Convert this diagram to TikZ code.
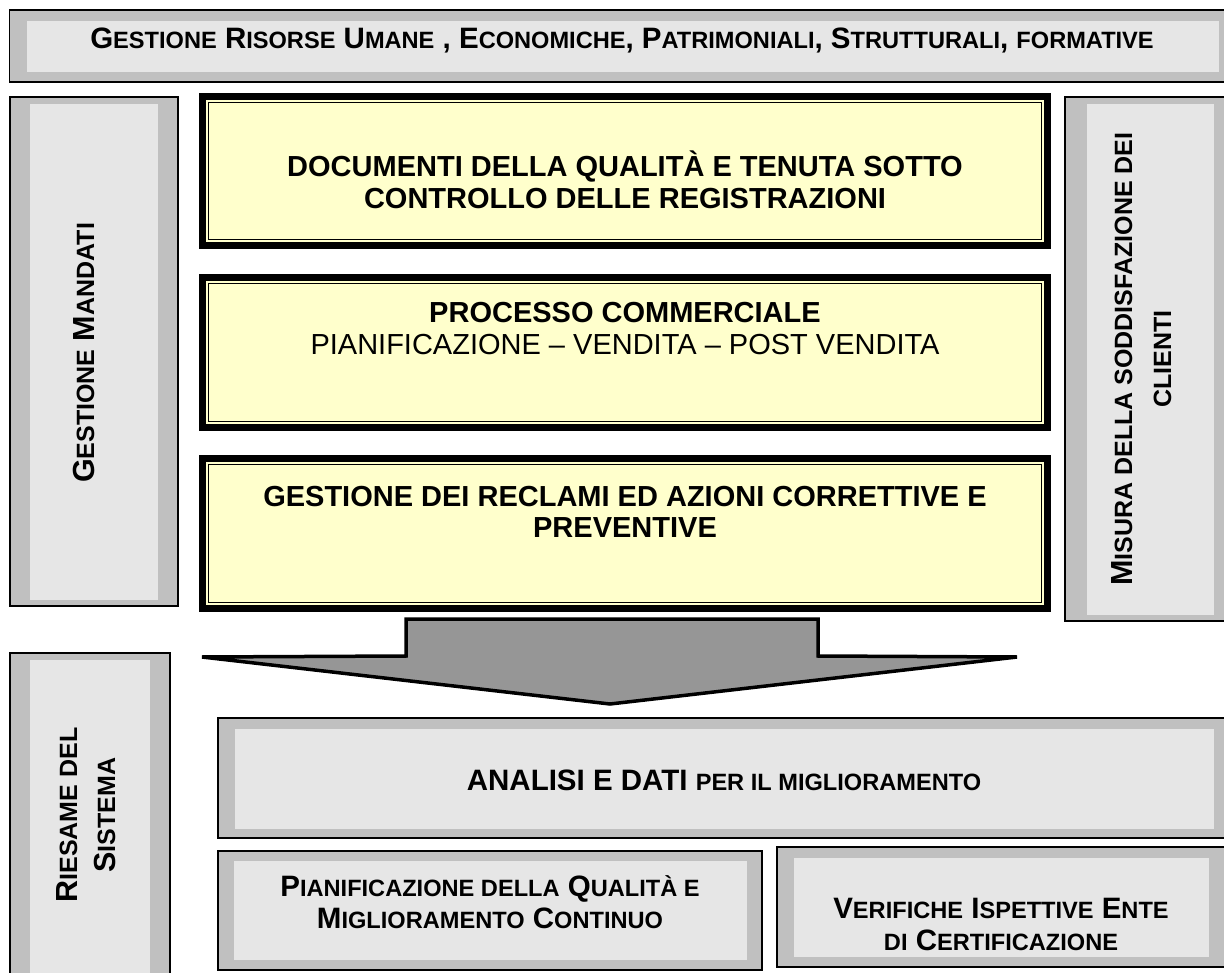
\documentclass[tikz,border=0pt]{standalone}
\usepackage{fontspec}
\setmainfont{Liberation Sans}
\definecolor{grayout}{HTML}{C0C0C0}
\definecolor{grayin}{HTML}{E6E6E6}
\definecolor{yfill}{HTML}{FFFFCC}
\definecolor{arrowgray}{HTML}{969696}
\newcommand{\sm}[1]{{\fontsize{23.6pt}{26pt}\selectfont #1}}
\newcommand{\vsm}[1]{{\fontsize{25pt}{27pt}\selectfont #1}}
\begin{document}
\begin{tikzpicture}[x=1pt,y=-1pt,
  outerbox/.style={fill=grayout,draw=black,line width=1.5pt},
  innerbox/.style={fill=grayin},
  ythick/.style={fill=black},
  yinner/.style={fill=yfill,draw=black,line width=1.3pt},
  lbl/.style={inner sep=0pt,anchor=base,font=\fontsize{29.5pt}{31pt}\selectfont\bfseries},
  ylbl/.style={inner sep=0pt,anchor=base,font=\fontsize{29pt}{31pt}\selectfont\bfseries},
  yreg/.style={inner sep=0pt,anchor=base,font=\fontsize{29pt}{31pt}\selectfont},
  vlbl/.style={inner sep=0pt,anchor=base,rotate=90,font=\fontsize{30.5pt}{32pt}\selectfont\bfseries}]
\useasboundingbox (0,0) rectangle (1224,973);
\fill[white] (0,0) rectangle (1224,973);

% top box
\draw[outerbox] (9.5,10) rectangle (1230,82);
\fill[innerbox] (27,21) rectangle (1219,72);
\node[lbl] (top) at (622,49) {G\sm{ESTIONE} R\sm{ISORSE} U\sm{MANE} , E\sm{CONOMICHE}, P\sm{ATRIMONIALI}, S\sm{TRUTTURALI}, \sm{FORMATIVE}};

% left column
\draw[outerbox] (10,97) rectangle (178,606);
\fill[innerbox] (30,104) rectangle (158,600);
\node[vlbl] (mandati) at (94,353) {G\vsm{ESTIONE} M\vsm{ANDATI}};

% right column
\draw[outerbox] (1065,97) rectangle (1230,621);
\fill[innerbox] (1087,104) rectangle (1214,615);
\node[vlbl] (misura1) at (1132,359) {M\vsm{ISURA DELLA SODDISFAZIONE DEI}};
\node[vlbl] (misura2) at (1171,359) {\vsm{CLIENTI}};

% yellow boxes
\foreach \ya/\yb in {93/249, 274/431, 455/612} {
  \fill[ythick] (199,\ya) rectangle (1051,\yb);
  \fill[yfill] (206,\ya+7) rectangle (1044,\yb-7);
  \draw[yinner] (208.5,\ya+9.5) rectangle (1041.5,\yb-9.5);
}
\node[ylbl] (doc1) at (625,177) {DOCUMENTI DELLA QUALITÀ E TENUTA SOTTO};
\node[ylbl] (doc2) at (625,209) {CONTROLLO DELLE REGISTRAZIONI};
\node[ylbl] (proc1) at (625,323) {PROCESSO COMMERCIALE};
\node[yreg] (proc2) at (625,355) {PIANIFICAZIONE – VENDITA – POST VENDITA};
\node[ylbl] (recl1) at (625,506) {GESTIONE DEI RECLAMI ED AZIONI CORRETTIVE E};
\node[ylbl] (recl2) at (625,537) {PREVENTIVE};

% big arrow
\draw[fill=arrowgray,line width=3.5pt,line join=miter]
  (406,619) -- (818,619) -- (818,656) -- (1017,657) -- (610,704) -- (202,657) -- (406,656) -- cycle;

% riesame
\draw[outerbox] (10,653) rectangle (170,990);
\fill[innerbox] (30,660) rectangle (150,990);
\node[vlbl] (ries1) at (77,815) {R\vsm{IESAME DEL}};
\node[vlbl] (ries2) at (115,815) {S\vsm{ISTEMA}};

% analisi
\draw[outerbox] (218,718) rectangle (1230,838);
\fill[innerbox] (235,729) rectangle (1214,829);
\node[lbl] (analisi) at (724,790) {ANALISI E DATI \sm{PER IL MIGLIORAMENTO}};

% pianificazione
\draw[outerbox] (218,851) rectangle (762,970);
\fill[innerbox] (234,861) rectangle (747,960);
\node[lbl] (pian1) at (490,896) {P\sm{IANIFICAZIONE DELLA} Q\sm{UALITÀ E}};
\node[lbl] (pian2) at (490,928) {M\sm{IGLIORAMENTO} C\sm{ONTINUO}};

% verifiche
\draw[outerbox] (777,847) rectangle (1230,967);
\fill[innerbox] (794,858) rectangle (1209,957);
\node[lbl] (ver1) at (1001,918) {V\sm{ERIFICHE} I\sm{SPETTIVE} E\sm{NTE}};
\node[lbl] (ver2) at (1001,950) {\sm{DI} C\sm{ERTIFICAZIONE}};
\end{tikzpicture}
\end{document}
